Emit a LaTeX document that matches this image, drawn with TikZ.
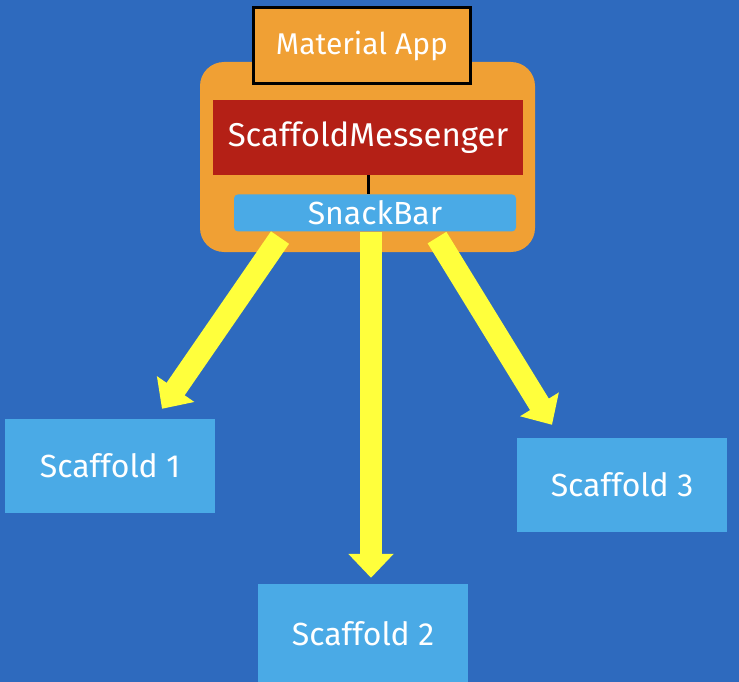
\documentclass[tikz,border=0pt]{standalone}
\usepackage{fontspec}
\setmainfont{Fira Sans}
\usepackage{tikz}
\usetikzlibrary{positioning,arrows.meta}
\definecolor{BgBlue}{RGB}{46,106,190}
\definecolor{AppOrange}{RGB}{240,160,52}
\definecolor{MsgRed}{RGB}{180,32,22}
\definecolor{BarBlue}{RGB}{74,170,230}
\definecolor{ArrowYellow}{RGB}{255,255,60}

\begin{document}
\begin{tikzpicture}[
    x=1pt, y=-1pt,
    appbox/.style={rectangle, draw=black, line width=3pt, fill=AppOrange,
        minimum width=217pt, minimum height=76pt, text=white, font=\fontsize{30}{34}\selectfont},
    msgbox/.style={rectangle, fill=MsgRed, minimum width=310pt, minimum height=75pt,
        text=white, font=\fontsize{33}{37}\selectfont},
    barbox/.style={rectangle, rounded corners=4pt, fill=BarBlue, minimum width=282pt,
        minimum height=37pt, inner sep=0pt, text=white, font=\fontsize{32}{36}\selectfont},
    scaffold/.style={rectangle, fill=BarBlue, minimum width=210pt, minimum height=94pt,
        text=white, font=\fontsize{32}{36}\selectfont},
    bigarrow/.style={ArrowYellow, line width=22pt, -{Triangle[width=44pt,length=24pt]}}
]
% backdrop
\fill[BgBlue] (0,0) rectangle (739,682);
\useasboundingbox (0,0) rectangle (739,682);

% app and its messenger
\fill[AppOrange, rounded corners=24pt] (200,62) rectangle (535,252);
\node[appbox] (app) at (362,46) {Material App};
\node[msgbox] (msg) at (368,137.5) {ScaffoldMessenger};
\node[barbox, below=19pt of msg, xshift=7pt] (snack) {SnackBar};
\draw[black, line width=3pt] (msg.south) -- (msg.south |- snack.north);

% scaffolds
\node[scaffold] (sc1) at (110,466) {Scaffold 1};
\node[scaffold, minimum height=100pt] (sc2) at (363,634) {Scaffold 2};
\node[scaffold] (sc3) at (622,485) {Scaffold 3};

\draw[bigarrow] ([xshift=-95pt,yshift=-6pt]snack.south) -- ([xshift=52pt,yshift=10pt]sc1.north);
\draw[bigarrow] ([xshift=-4pt]snack.south) -- ([xshift=8pt,yshift=6pt]sc2.north);
\draw[bigarrow] ([xshift=62pt,yshift=-6pt]snack.south) -- ([xshift=-70pt,yshift=13pt]sc3.north);
\end{tikzpicture}
\end{document}
